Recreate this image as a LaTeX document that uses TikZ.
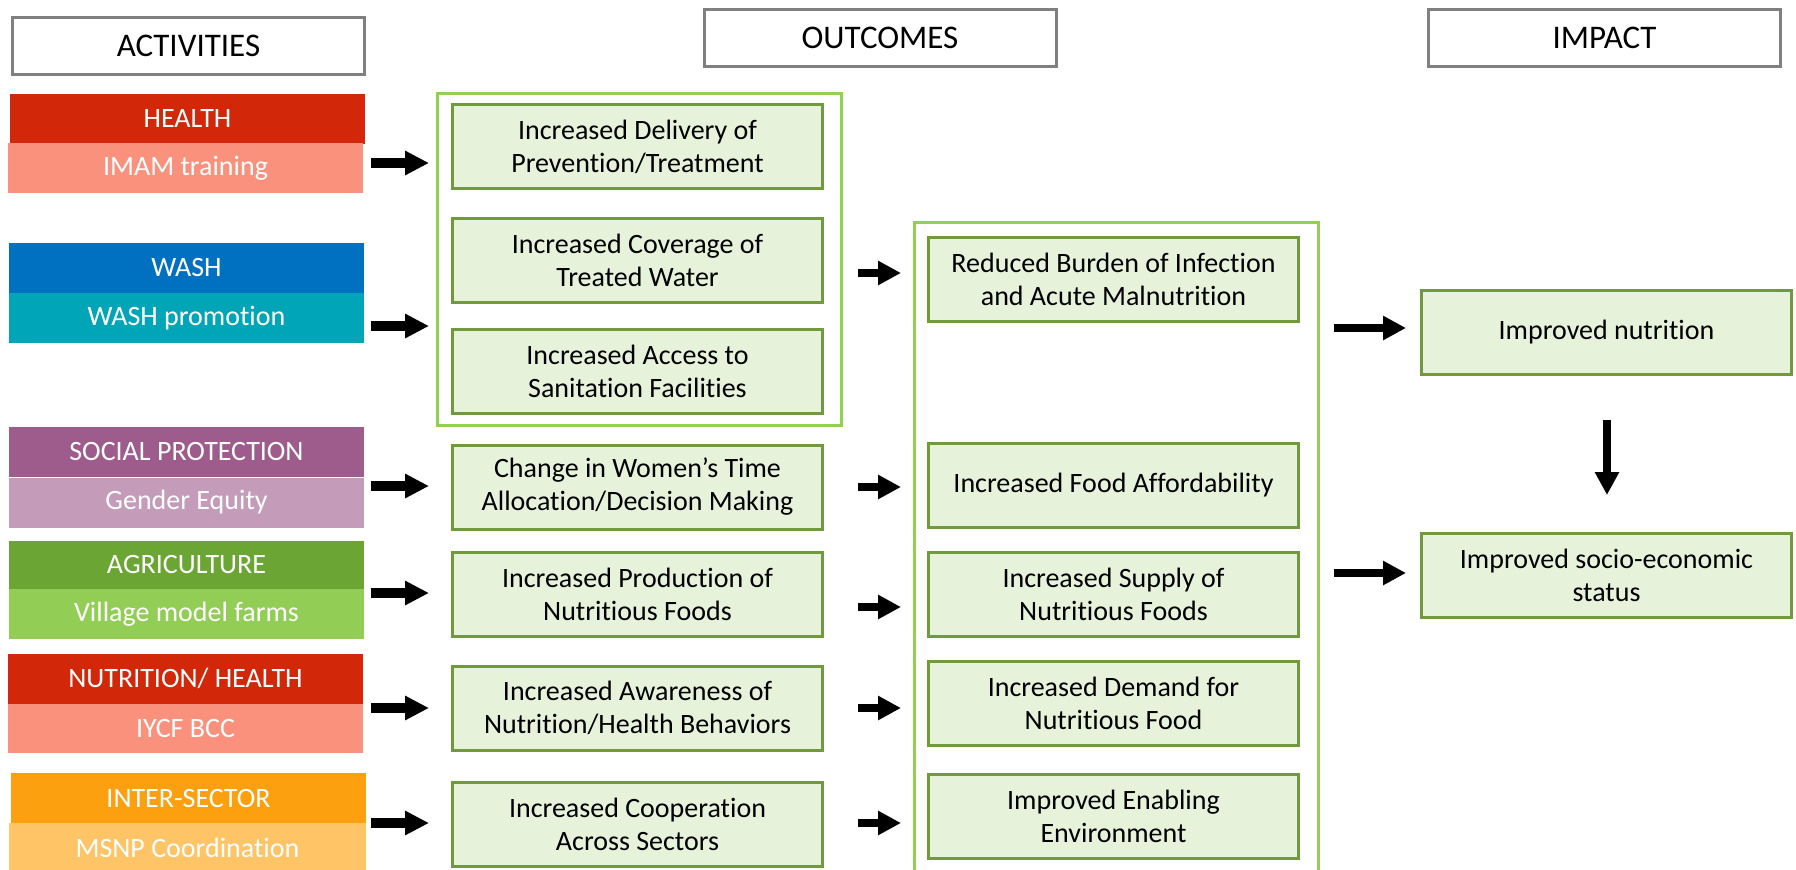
\documentclass[tikz,border=0pt]{standalone}
\usepackage{fontspec}
\setmainfont{Carlito}[Ligatures={NoCommon}]
\usetikzlibrary{arrows.meta}
\definecolor{hdrgray}{RGB}{128,128,128}
\definecolor{redtop}{RGB}{210,39,9}
\definecolor{redlow}{RGB}{250,145,125}
\definecolor{bluetop}{RGB}{0,112,192}
\definecolor{bluelow}{RGB}{0,166,183}
\definecolor{purtop}{RGB}{158,92,140}
\definecolor{purlow}{RGB}{196,156,185}
\definecolor{grntop}{RGB}{107,165,52}
\definecolor{grnlow}{RGB}{146,205,85}
\definecolor{orgtop}{RGB}{253,160,16}
\definecolor{orglow}{RGB}{254,196,102}
\definecolor{boxfill}{RGB}{230,242,218}
\definecolor{boxborder}{RGB}{112,154,60}
\definecolor{grpline}{RGB}{146,208,80}
\begin{document}
\begin{tikzpicture}[x=0.5pt,y=-0.5pt,
  hdr/.style={draw=hdrgray, line width=1.5pt, fill=white, inner sep=0pt,
    minimum width=176pt, minimum height=28.5pt, font=\fontsize{16.5}{19}\selectfont},
  act/.style={inner sep=0pt, minimum width=177.5pt, minimum height=25pt,
    text=white, font=\fontsize{14}{16.5}\selectfont},
  obox/.style={draw=boxborder, fill=boxfill, line width=1.5pt, inner sep=0pt,
    align=center, minimum width=185pt, minimum height=42pt,
    font=\fontsize{14}{16.5}\selectfont},
  grp/.style={draw=grpline, line width=1.5pt, inner sep=0pt, minimum width=202pt},
  arrA/.style={line width=5pt, -{Triangle[length=12pt,width=11.5pt]}},
  arrB/.style={line width=4pt, -{Triangle[length=11.5pt,width=11.5pt]}}
]
\useasboundingbox (0,0) rectangle (1796,869);

% headers
\node[hdr] (hact) at (188.5,46) {ACTIVITIES};
\node[hdr] (hout) at (880,38) {OUTCOMES};
\node[hdr] (himp) at (1604.5,37.5) {IMPACT};

% activities
\node[act, fill=redtop] (health) at (187.5,119) {HEALTH};
\node[act, fill=redlow] (imam) at (185.5,168) {IMAM training};
\node[act, fill=bluetop] (wash) at (186.5,268) {WASH};
\node[act, fill=bluelow] (washp) at (186.5,318) {WASH promotion};
\node[act, fill=purtop] (social) at (186.5,452) {SOCIAL PROTECTION};
\node[act, fill=purlow] (gender) at (186.5,502.5) {Gender Equity};
\node[act, fill=grntop, minimum height=24pt] (agri) at (186.5,565) {AGRICULTURE};
\node[act, fill=grnlow] (village) at (186.5,614) {Village model farms};
\node[act, fill=redtop] (nut) at (185.5,678.5) {NUTRITION/ HEALTH};
\node[act, fill=redlow, minimum height=24.5pt] (iycf) at (185.5,728.5) {IYCF BCC};
\node[act, fill=orgtop] (inter) at (188.5,798) {INTER-SECTOR};
\node[act, fill=orglow, minimum width=178.5pt] (msnp) at (187.5,848) {MSNP Coordination};

% groups
\node[grp, minimum height=166pt] (g1) at (639.5,259.5) {};
\node[grp, minimum height=388pt] (g2) at (1116.5,610.5) {};

% outcome column 1
\node[obox] (deliv) at (637.5,146.5) {Increased Delivery of\\Prevention/Treatment};
\node[obox] (cover) at (637.5,260) {Increased Coverage of\\Treated Water};
\node[obox] (access) at (637.5,371) {Increased Access to\\Sanitation Facilities};
\node[obox] (women) at (637.5,487) {Change in Women’s Time\\Allocation/Decision Making};
\node[obox] (prod) at (637.5,594) {Increased Production of\\Nutritious Foods};
\node[obox] (aware) at (637.5,708) {Increased Awareness of\\Nutrition/Health Behaviors};
\node[obox] (coop) at (637.5,824) {Increased Cooperation\\Across Sectors};

% outcome column 2
\node[obox] (reduced) at (1113.5,279) {Reduced Burden of Infection\\and Acute Malnutrition};
\node[obox] (afford) at (1113.5,485.5) {Increased Food Affordability};
\node[obox] (supply) at (1113.5,594) {Increased Supply of\\Nutritious Foods};
\node[obox] (demand) at (1113.5,703.5) {Increased Demand for\\Nutritious Food};
\node[obox] (enabling) at (1113.5,816) {Improved Enabling\\Environment};

% impact
\node[obox] (nutr) at (1606.5,332.5) {Improved nutrition};
\node[obox] (socio) at (1606.5,575) {Improved socio-economic\\status};

% arrow end points
\foreach \n/\y in {1/163,2/326,3/486,4/593,5/708,6/823}{
  \coordinate (ls\n) at (371,\y);
  \coordinate (le\n) at (429,\y);
}
\foreach \n/\y in {1/273,2/487,3/607,4/708,5/823}{
  \coordinate (ms\n) at (858,\y);
  \coordinate (me\n) at (901,\y);
}
\foreach \n/\y in {1/328,2/573}{
  \coordinate (rs\n) at (1334,\y);
  \coordinate (re\n) at (1406,\y);
}
\coordinate (ds) at (1607,420);
\coordinate (de) at (1607,495);

\foreach \n in {1,...,6}{\draw[arrA] (ls\n) -- (le\n);}
\foreach \n in {1,...,5}{\draw[arrB] (ms\n) -- (me\n);}
\foreach \n in {1,2}{\draw[arrB] (rs\n) -- (re\n);}
\draw[arrB] (ds) -- (de);
\end{tikzpicture}
\end{document}
